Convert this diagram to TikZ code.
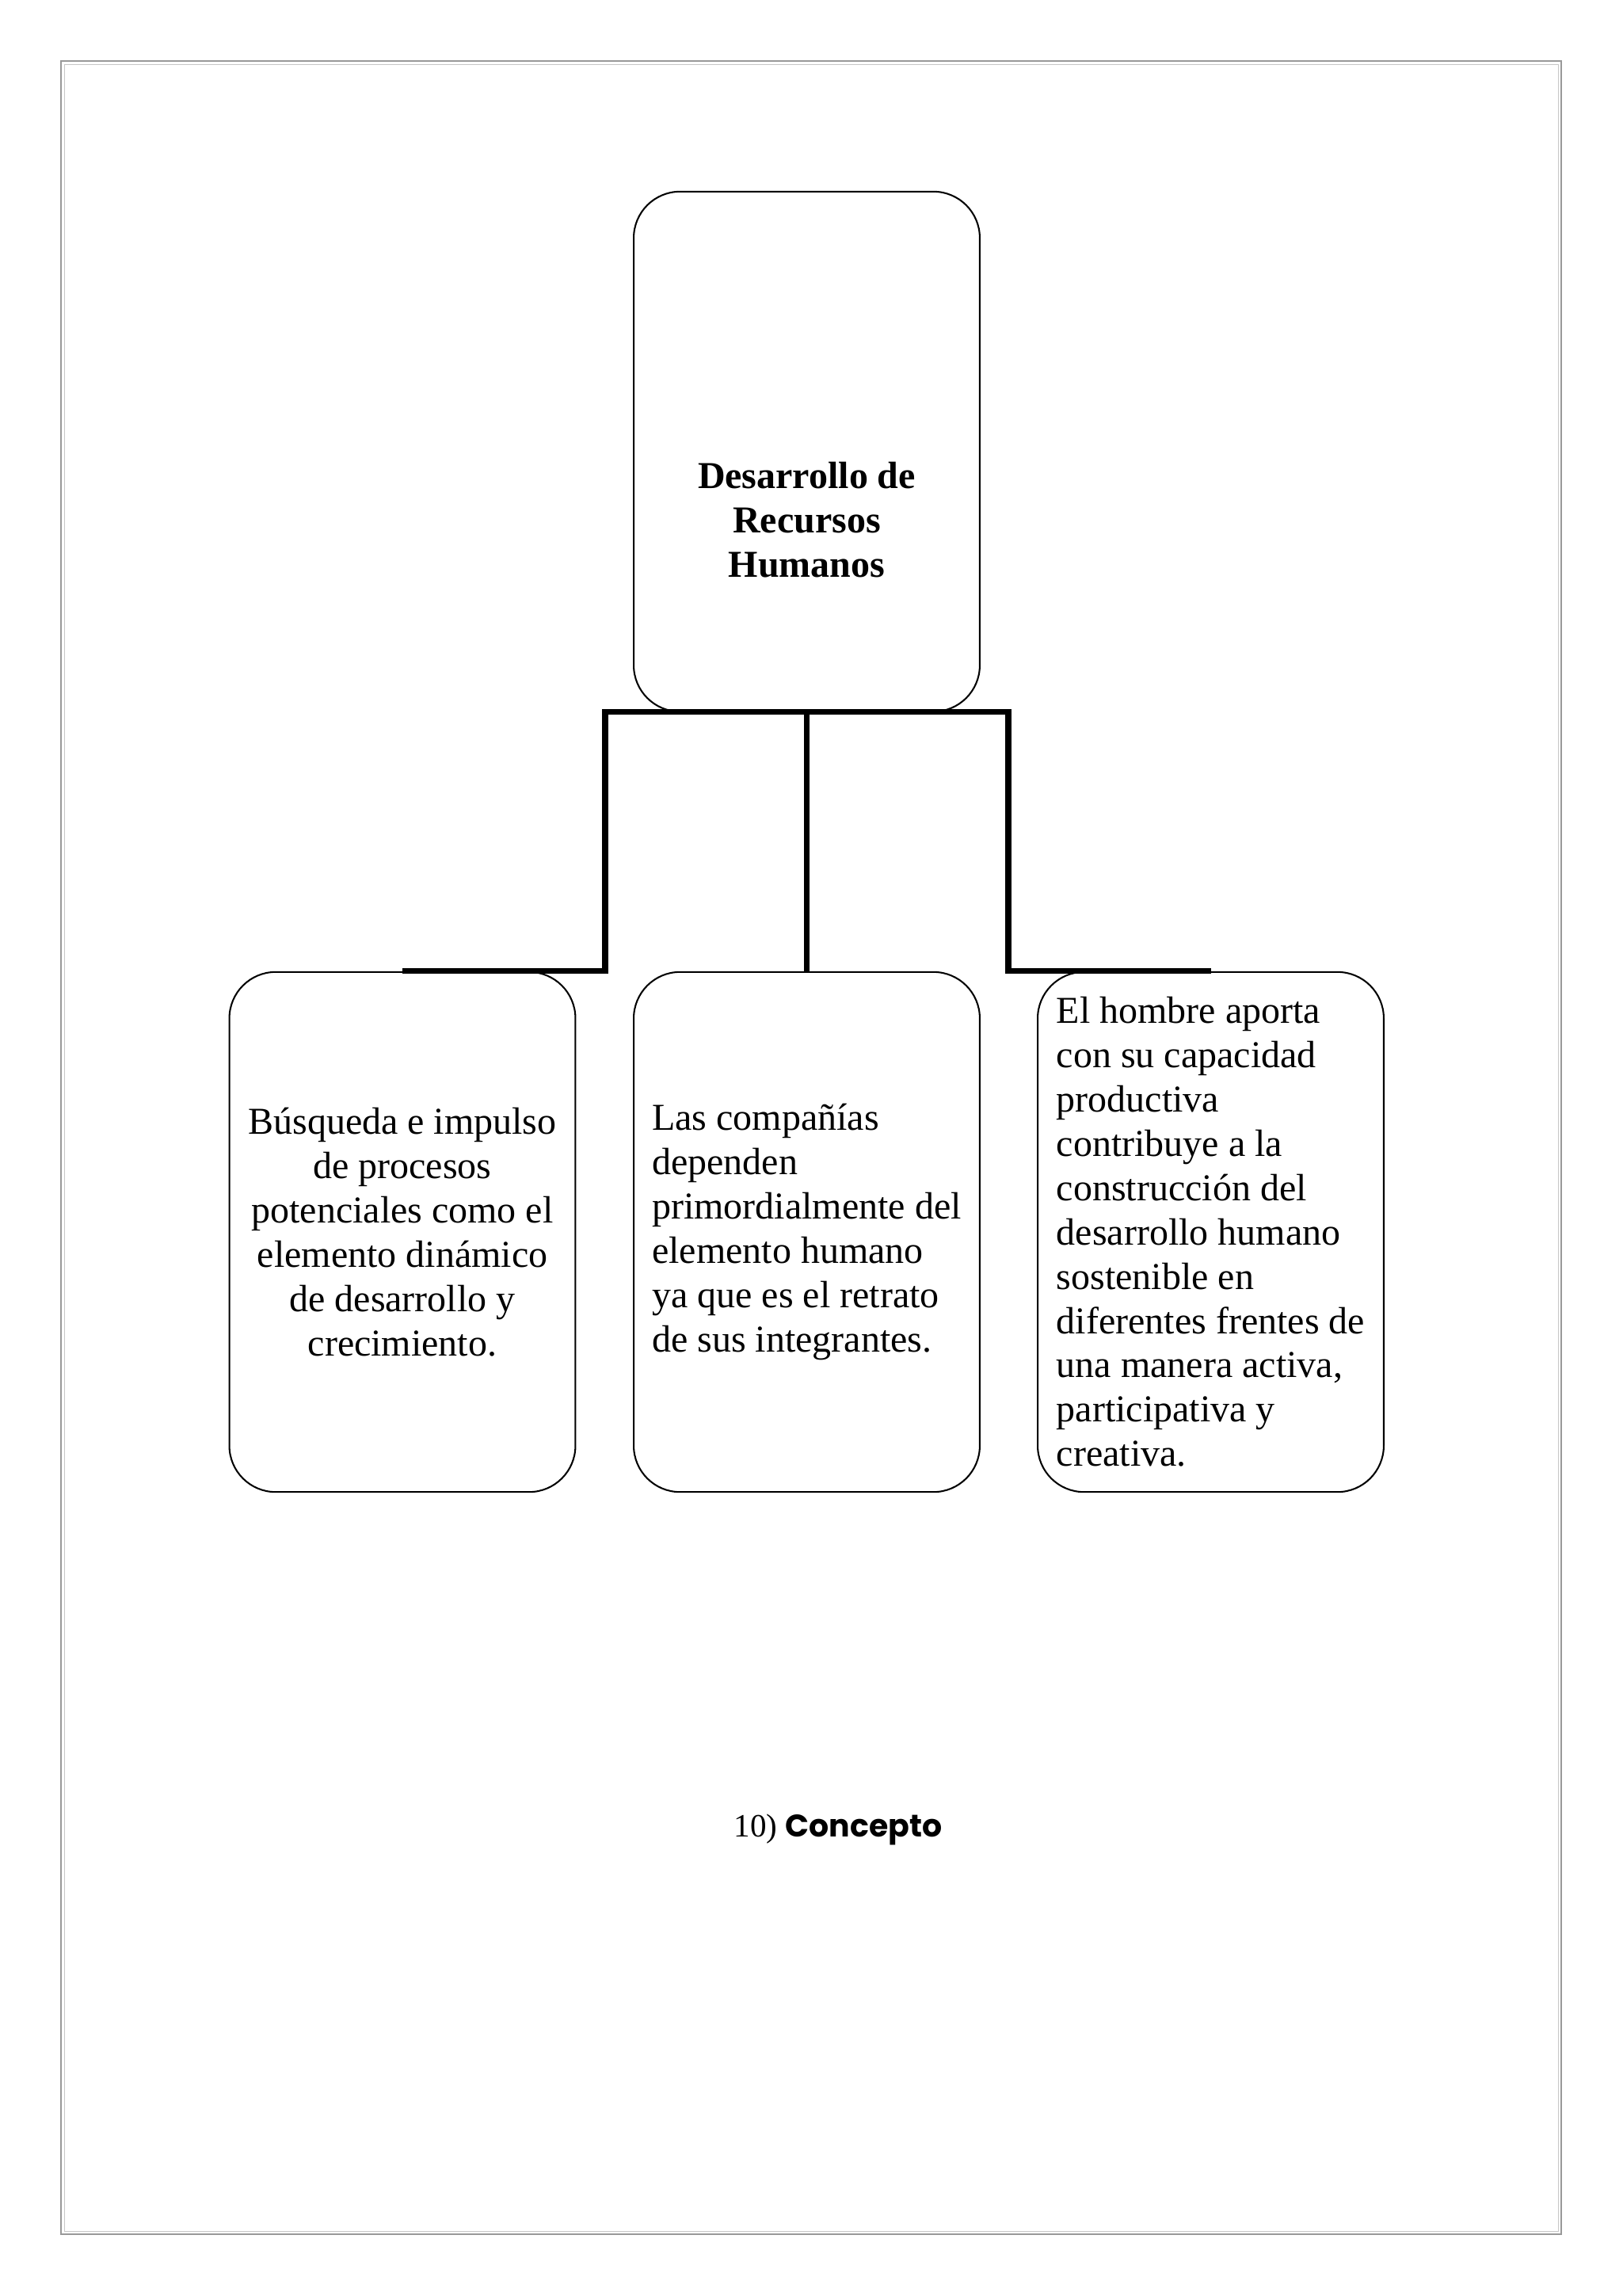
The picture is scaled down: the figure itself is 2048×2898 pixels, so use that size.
\documentclass[tikz,border=0pt]{standalone}
\usepackage{fontspec}
\setmainfont{Liberation Serif}
\newfontfamily\conceptfont{Poppins}
\begin{document}
\begin{tikzpicture}[x=0.010254cm,y=-0.010254cm,
    box/.style={draw,line width=0.6pt,rounded corners=0.6cm,minimum width=4.48cm,
      minimum height=6.73cm,inner sep=0pt,font=\fontsize{14}{16.3}\selectfont},
    link/.style={line width=2.1pt}]
  \useasboundingbox (0,0) rectangle (2048,2898);
  % page frame
  \draw[gray!80,line width=0.5pt] (77,77) rectangle (1971,2820);
  \draw[gray!45,line width=0.5pt] (81.5,81.5) rectangle (1967.5,2816.5);
  % boxes
  \node[box] (drh) at (1018.5,570) {};
  \node[font=\bfseries\fontsize{14}{16.3}\selectfont,align=center] (drhtitle) at (1018.5,656)
    {Desarrollo de\\Recursos\\Humanos};
  \node[box,align=center] (busqueda) at (508,1555)
    {Búsqueda e impulso\\de procesos\\potenciales como el\\elemento dinámico\\de desarrollo y\\crecimiento.};
  \node[box,align=left] (companias) at (1018.5,1555)
    {Las compañías\\dependen\\primordialmente del\\elemento humano\\ya que es el retrato\\de sus integrantes.};
  \node[box,align=left] (hombre) at (1528.5,1555)
    {El hombre aporta\\con su capacidad\\productiva\\contribuye a la\\construcción del\\desarrollo humano\\sostenible en\\diferentes frentes de\\una manera activa,\\participativa y\\creativa.};
  % connectors
  \coordinate (barL) at (764,898.5);
  \coordinate (barR) at (1273,898.5);
  \draw[link] (busqueda.north) -| (barL) -- (barR) |- (hombre.north);
  \draw[link] (drh.south) -- (companias.north);
  % caption
  \node[anchor=base west,inner sep=0pt] (concepto) at (926,2318)
    {\fontsize{12}{14}\selectfont 10)~{\conceptfont\bfseries\fontsize{11.5}{14}\selectfont Concepto}};
\end{tikzpicture}
\end{document}
